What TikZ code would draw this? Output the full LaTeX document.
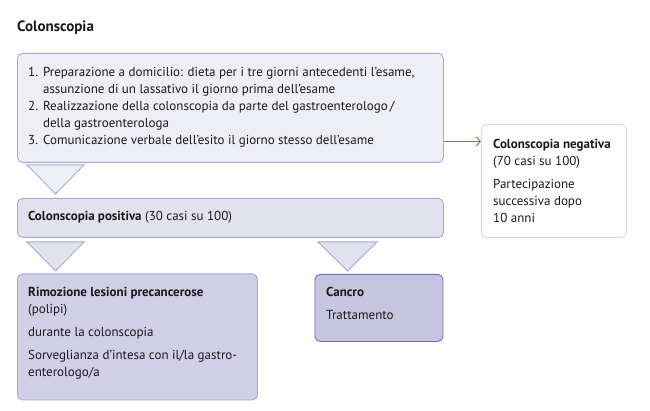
\documentclass[tikz,border=0pt]{standalone}
\usepackage{fontspec}
\setmainfont{PT Sans}
\usetikzlibrary{arrows.meta,calc}

\definecolor{ink}{HTML}{1A1A1A}
\definecolor{lila}{HTML}{A8A7D6}
\definecolor{lilaDark}{HTML}{7270B3}
\definecolor{fillA}{HTML}{EEEEF6}
\definecolor{fillB}{HTML}{E2E2EF}
\definecolor{fillC}{HTML}{D0CFE5}
\definecolor{fillD}{HTML}{C6C4DF}
\definecolor{greyline}{HTML}{DADADA}

\newcommand{\bodyfont}{\fontsize{13}{17}\selectfont}

\begin{document}
\begin{tikzpicture}[x=1pt,y=-1pt,
    box/.style={draw=lila, line width=0.9pt, rounded corners=5pt, anchor=north west, inner sep=0pt},
    txt/.style={anchor=north west, inner sep=0pt, align=left, text=ink, font=\bodyfont},
    tri/.style={draw=lila, line width=0.9pt, line join=miter},
    arr/.style={draw=lilaDark, line width=1pt, -{Straight Barb[length=4pt,width=9pt]}}]

    \useasboundingbox (0,0) rectangle (650,411);

    % title
    \node[txt, font=\fontsize{15}{18}\selectfont\bfseries] (title) at (17,21) {Colonscopia};

    % boxes
    \node[box, fill=fillA, minimum width=426pt, minimum height=109pt] (prep) at (17,53) {};
    \node[box, fill=fillB, minimum width=426pt, minimum height=39pt] (pos) at (17,198) {};
    \node[box, fill=fillC, minimum width=240pt, minimum height=126pt] (rim) at (17,273.5) {};
    \node[box, fill=fillD, draw=lilaDark, minimum width=128pt, minimum height=67pt] (canc) at (314.5,274) {};
    \node[box, fill=white, draw=greyline, minimum width=145pt, minimum height=113pt] (neg) at (481,124) {};

    % texts
    \node[txt] (preptxt) at (28,64.1) {%
        \begin{tabular}{@{}l@{\hspace{5pt}}l@{}}
        1. & Preparazione a domicilio: dieta per i tre giorni antecedenti l’esame,\\
           & assunzione di un lassativo il giorno prima dell’esame\\
        2. & Realizzazione della colonscopia da parte del gastroenterologo\,/\\
           & della gastroenterologa\\
        3. & Comunicazione verbale dell’esito il giorno stesso dell’esame
        \end{tabular}};
    \node[txt] (negtxt) at (493,136.1) {\strut\textbf{Colonscopia negativa}\\(70 casi su 100)\\[6pt]
        Partecipazione\\successiva dopo\\10 anni};
    \node[txt] (postxt) at (28,208.1) {\strut\textbf{Colonscopia positiva} (30 casi su 100)};
    \node[txt] (rimtxt) at (28,284.1) {\strut\textbf{Rimozione lesioni precancerose}\\(polipi)\\[6pt]
        durante la colonscopia\\[6pt]
        Sorveglianza d’intesa con il/la gastro-\\enterologo/a};
    \node[txt] (canctxt) at (326,284.1) {\strut\textbf{Cancro}\\[6pt]Trattamento};

    % triangles
    \draw[tri, fill=fillA] ($(prep.south west)+(10,2)$) -- ++(57,0) -- ++(-28.5,29) -- cycle;
    \draw[tri, fill=fillB] ($(pos.south west)+(10,4)$) -- ++(57,0) -- ++(-28.5,29) -- cycle;
    \draw[tri, fill=fillB] ($(pos.south west)+(301,4)$) -- ++(59,0) -- ++(-29.5,29) -- cycle;

    % arrow to negative result
    \coordinate (out) at ([yshift=-33.5pt]prep.east);
    \draw[arr] (out) -- (out -| neg.west);
\end{tikzpicture}
\end{document}
